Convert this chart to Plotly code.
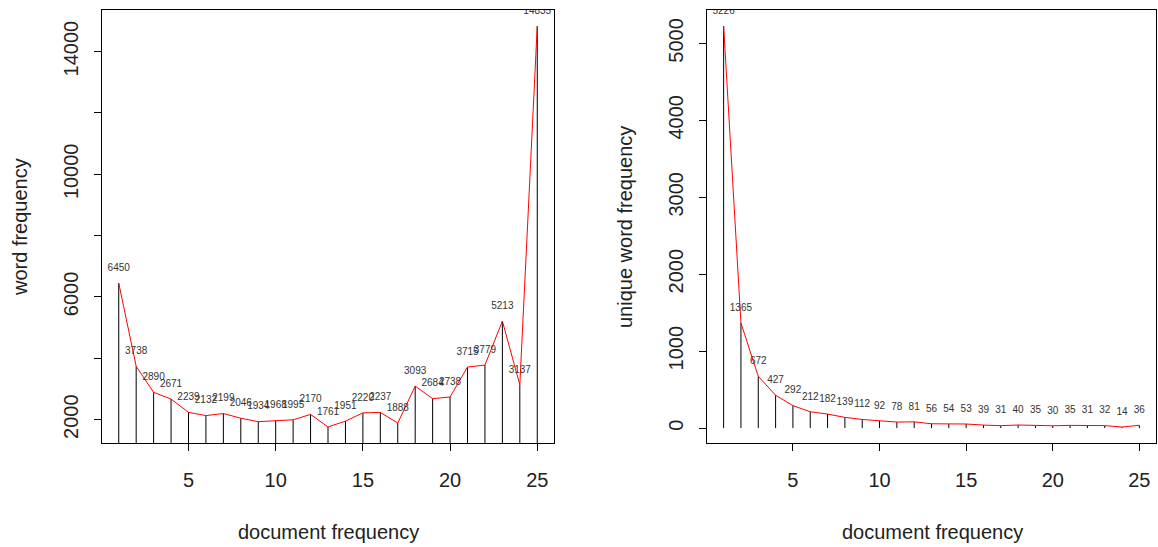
import plotly.graph_objects as go

doc_freq = list(range(1, 26))
word_freq = [6450, 3738, 2890, 2671, 2239, 2132, 2199, 2046, 1934, 1968, 1995, 2170, 1761,
             1951, 2220, 2237, 1888, 3093, 2684, 2738, 3715, 3779, 5213, 3137, 14835]
unique_freq = [5226, 1365, 672, 427, 292, 212, 182, 139, 112, 92, 78, 81, 56, 54, 53, 39,
               31, 40, 35, 30, 35, 31, 32, 14, 36]

FONT = "Liberation Sans, Arial, sans-serif"

fig = go.Figure()


def spikes(xs, ys):
    sx, sy = [], []
    for x, y in zip(xs, ys):
        sx += [x, x, None]
        sy += [0, y, None]
    return sx, sy


for i, ys in enumerate([word_freq, unique_freq]):
    xa = "x" if i == 0 else "x2"
    ya = "y" if i == 0 else "y2"
    sx, sy = spikes(doc_freq, ys)
    fig.add_trace(go.Scatter(x=sx, y=sy, mode="lines", line=dict(color="black", width=1),
                             xaxis=xa, yaxis=ya, showlegend=False, hoverinfo="skip"))
    fig.add_trace(go.Scatter(x=doc_freq, y=ys, mode="lines", line=dict(color="red", width=1),
                             xaxis=xa, yaxis=ya, showlegend=False))
    fig.add_trace(go.Scatter(x=doc_freq, y=ys, mode="markers+text", text=[str(v) for v in ys],
                             textposition="top center", cliponaxis=True,
                             marker=dict(size=14, opacity=0),
                             textfont=dict(size=10, color="#333", family=FONT),
                             xaxis=xa, yaxis=ya, showlegend=False, hoverinfo="skip"))

W, H = 1158, 547
top = 10
bottom = 443
ydom = [(H - bottom) / H, (H - top) / H]

axis_common = dict(showline=True, linecolor="black", linewidth=1, mirror=True,
                   ticks="outside", ticklen=7, tickcolor="black", showgrid=False,
                   zeroline=False, tickfont=dict(size=20, color="#222", family=FONT))

fig.update_layout(
    width=W, height=H,
    margin=dict(l=0, r=0, t=0, b=0),
    plot_bgcolor="white", paper_bgcolor="white",
    font=dict(family=FONT, color="#222"),
    xaxis=dict(domain=[102 / W, 554 / W], range=[0.04, 25.96], tickvals=[5, 10, 15, 20, 25],
               anchor="y", ticklabelstandoff=12, **axis_common),
    yaxis=dict(domain=ydom, range=[1238, 15358], tick0=2000, dtick=4000, tickangle=-90,
               tickformat="d", anchor="x", ticklabelstandoff=8,
               minor=dict(dtick=2000, tick0=2000, ticks="outside", ticklen=7, tickcolor="black"),
               **axis_common),
    xaxis2=dict(domain=[707 / W, 1156 / W], range=[0.04, 25.96], tickvals=[5, 10, 15, 20, 25],
                anchor="y2", ticklabelstandoff=12, **axis_common),
    yaxis2=dict(domain=ydom, range=[-194, 5434], tickvals=[0, 1000, 2000, 3000, 4000, 5000],
                tickangle=-90, anchor="x2", ticklabelstandoff=8, **axis_common),
)

titles = [
    ("word frequency", 20, 227, -90),
    ("unique word frequency", 625, 227, -90),
    ("document frequency", 328, 532, 0),
    ("document frequency", 932, 532, 0),
]
for txt, px, py, ang in titles:
    fig.add_annotation(text=txt, x=px / W, y=(H - py) / H, xref="paper", yref="paper",
                       xanchor="center", yanchor="middle", showarrow=False, textangle=ang,
                       font=dict(size=20, family=FONT, color="#222"))

fig.write_html("out.html")
